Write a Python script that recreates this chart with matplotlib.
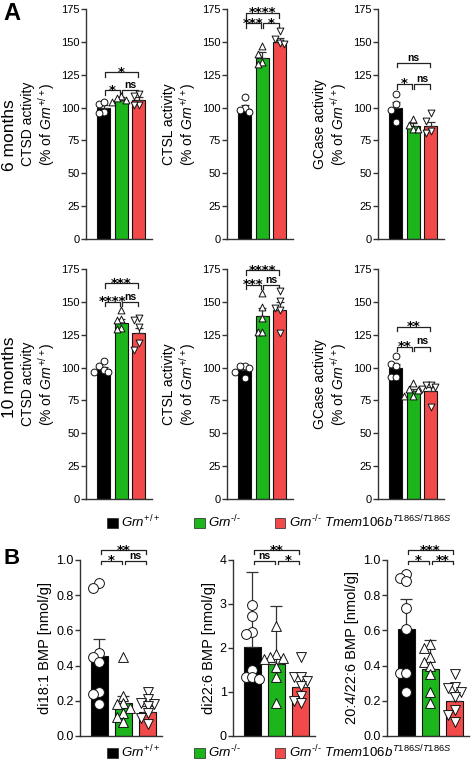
import numpy as np
import matplotlib.pyplot as plt
from matplotlib.patches import Patch

plt.rcParams['font.family'] = ['Liberation Sans', 'DejaVu Sans']
plt.rcParams['mathtext.fontset'] = 'custom'
plt.rcParams['mathtext.rm'] = 'Liberation Sans'
plt.rcParams['mathtext.it'] = 'Liberation Sans:italic'
plt.rcParams['mathtext.bf'] = 'Liberation Sans:bold'

groups = ['Grn+/+', 'Grn-/-', 'Grn-/- Tmem106b T186S/T186S']
colors = ['#000000', '#1cb51c', '#f24a4a']
markers = ['o', '^', 'v']

# ---- panel A, 6 months (n=4) ----
ctsd_6m_mean = [100, 106, 106]
ctsd_6m_err = [2, 2, 2]
ctsd_6m_pts = [[103, 104, 97, 96], [109, 107, 106, 104], [110, 109, 102, 102]]
ctsd_6m_sig = ['*', 'ns', '*']

ctsl_6m_mean = [99, 138, 150]
ctsl_6m_err = [3, 4, 3]
ctsl_6m_pts = [[108, 100, 98, 97], [147, 141, 135, 133], [158, 152, 149, 148]]
ctsl_6m_sig = ['***', '*', '****']

gcase_6m_mean = [100, 86, 86]
gcase_6m_err = [4, 2, 3]
gcase_6m_pts = [[110, 103, 98, 89], [91, 87, 84, 84], [96, 90, 82, 81]]
gcase_6m_sig = ['*', 'ns', 'ns']

# ---- panel A, 10 months (n=5) ----
ctsd_10m_mean = [99, 134, 126]
ctsd_10m_err = [1.5, 3, 4]
ctsd_10m_pts = [[105, 101, 98, 97, 97], [144, 137, 136, 130, 129], [138, 136, 131, 119, 113]]
ctsd_10m_sig = ['****', 'ns', '***']

ctsl_10m_mean = [98, 139, 144]
ctsl_10m_err = [2, 6, 6]
ctsl_10m_pts = [[101, 101, 100, 97, 92], [157, 146, 138, 127, 127], [158, 151, 145, 144, 126]]
ctsl_10m_sig = ['***', 'ns', '****']

gcase_10m_mean = [100, 82, 82]
gcase_10m_err = [3, 2, 3]
gcase_10m_pts = [[109, 103, 101, 93, 93], [88, 84, 83, 78, 78], [87, 87, 85, 84, 70]]
gcase_10m_sig = ['**', 'ns', '**']

# ---- panel B (n=8) ----
di18_mean = [0.455, 0.185, 0.135]
di18_err = [0.098, 0.04, 0.035]
di18_pts = [[0.87, 0.84, 0.47, 0.45, 0.42, 0.25, 0.24, 0.18],
            [0.45, 0.23, 0.19, 0.18, 0.16, 0.13, 0.11, 0.08],
            [0.25, 0.21, 0.19, 0.18, 0.17, 0.13, 0.10, 0.07]]
di18_sig = ['*', 'ns', '**']

di22_mean = [2.02, 1.64, 1.11]
di22_err = [1.70, 1.31, 0.25]
di22_pts = [[2.97, 2.72, 2.36, 2.31, 1.49, 1.35, 1.33, 1.30],
            [2.49, 1.87, 1.79, 1.78, 1.75, 1.56, 1.33, 0.76],
            [1.79, 1.33, 1.33, 1.26, 1.14, 0.91, 0.80, 0.76]]
di22_sig = ['ns', '*', '**']

di20_mean = [0.61, 0.38, 0.20]
di20_err = [0.17, 0.165, 0.045]
di20_pts = [[0.92, 0.90, 0.88, 0.73, 0.61, 0.36, 0.36, 0.25],
            [0.52, 0.50, 0.45, 0.42, 0.40, 0.35, 0.25, 0.19],
            [0.35, 0.28, 0.27, 0.25, 0.22, 0.15, 0.12, 0.08]]
di20_sig = ['*', '**', '***']

grn = r'$\mathit{Grn}^{+/+}$'
a_labels = ['CTSD activity\n(% of ' + grn + ')',
            'CTSL activity\n(% of ' + grn + ')',
            'GCase activity\n(% of ' + grn + ')']
b_labels = ['di18:1 BMP [nmol/g]', 'di22:6 BMP [nmol/g]', '20:4/22:6 BMP [nmol/g]']


def spread(vals, tol, step):
    vals = np.asarray(vals, float)
    offs = np.zeros(len(vals))
    placed = []
    cands = [0, -step, step, -2 * step, 2 * step]
    for i in np.argsort(vals)[::-1]:
        near = [offs[j] for j in placed if abs(vals[j] - vals[i]) < tol]
        for c in cands:
            if all(abs(c - o) > 1e-6 for o in near):
                offs[i] = c
                break
        placed.append(i)
    return offs


def bracket(ax, x1, x2, y, text, h):
    g = 0.06
    ax.plot([x1 + g, x1 + g, x2 - g, x2 - g], [y - h, y, y, y - h],
            color='#222222', lw=0.9, clip_on=False)
    if text == 'ns':
        ax.annotate(text, ((x1 + x2) / 2, y), xytext=(0, 1.5), textcoords='offset points',
                    ha='center', va='baseline', fontsize=7.5, fontweight='bold',
                    annotation_clip=False)
    else:
        ax.annotate(text, ((x1 + x2) / 2, y), xytext=(0, -2.5), textcoords='offset points',
                    ha='center', va='baseline', fontsize=9.5, fontweight='bold',
                    family='DejaVu Sans', annotation_clip=False)


def panel(ax, mean, err, pts, sig, ymax, yticks, ylabel, ms, tick_fs, lab_fs,
          cap, sig_y, xlim, fmt=None):
    x = np.arange(3)
    ax.bar(x, mean, width=0.72, color=colors, edgecolor='#111111', lw=0.8, zorder=1)
    for i in range(3):
        ax.errorbar(x[i], mean[i], yerr=[[0], [err[i]]], color='#333333', lw=0.9,
                    capsize=cap, capthick=0.9, zorder=2)
        offs = spread(pts[i], 0.035 * ymax, 0.26)
        ax.scatter(x[i] + offs, pts[i], s=ms, marker=markers[i], facecolor='white',
                   edgecolor='#111111', lw=0.7, zorder=3, clip_on=False)
    ax.set_xlim(*xlim)
    ax.set_ylim(0, ymax)
    ax.set_yticks(yticks)
    if fmt:
        ax.set_yticklabels([fmt.format(t) for t in yticks])
    ax.set_xticks([])
    for s in ['top', 'right']:
        ax.spines[s].set_visible(False)
    for s in ['left', 'bottom']:
        ax.spines[s].set_color('#333333')
        ax.spines[s].set_linewidth(1.0)
    ax.tick_params(axis='y', length=3.5, width=1.0, color='#333333', labelsize=tick_fs, pad=1)
    ax.set_ylabel(ylabel, fontsize=lab_fs, labelpad=3, linespacing=1.05)
    h = 0.02 * ymax
    bracket(ax, 0, 1, sig_y[0], sig[0], h)
    bracket(ax, 1, 2, sig_y[0], sig[1], h)
    bracket(ax, 0, 2, sig_y[1], sig[2], h)


fig = plt.figure(figsize=(4.74, 7.6), dpi=100)

a_left = [86 / 474, 227 / 474, 378 / 474]
a_w = 66 / 474
a_h = 230 / 760
a_bottom = [1 - 239 / 760, 1 - 499 / 760]
b_left = [80 / 474, 233 / 474, 387 / 474]
b_w = 82 / 474
b_h = 176 / 760
b_bottom = 1 - 736 / 760

rows_a = [
    [(ctsd_6m_mean, ctsd_6m_err, ctsd_6m_pts, ctsd_6m_sig, (113, 127)),
     (ctsl_6m_mean, ctsl_6m_err, ctsl_6m_pts, ctsl_6m_sig, (164, 172)),
     (gcase_6m_mean, gcase_6m_err, gcase_6m_pts, gcase_6m_sig, (118, 134))],
    [(ctsd_10m_mean, ctsd_10m_err, ctsd_10m_pts, ctsd_10m_sig, (150, 164)),
     (ctsl_10m_mean, ctsl_10m_err, ctsl_10m_pts, ctsl_10m_sig, (163, 174)),
     (gcase_10m_mean, gcase_10m_err, gcase_10m_pts, gcase_10m_sig, (116, 131))],
]
for r, row in enumerate(rows_a):
    for c, (m, e, p, s, sy) in enumerate(row):
        ax = fig.add_axes([a_left[c], a_bottom[r], a_w, a_h])
        panel(ax, m, e, p, s, 175, np.arange(0, 176, 25), a_labels[c], 24, 8, 10,
              2.8, sy, (-1.0, 2.75))

b_sets = [(di18_mean, di18_err, di18_pts, di18_sig, 1.0, np.arange(0, 1.01, 0.2), '{:.1f}'),
          (di22_mean, di22_err, di22_pts, di22_sig, 4, np.arange(0, 5, 1), '{:.0f}'),
          (di20_mean, di20_err, di20_pts, di20_sig, 1.0, np.arange(0, 1.01, 0.2), '{:.1f}')]
for c, (m, e, p, s, ymax, yt, fmt) in enumerate(b_sets):
    ax = fig.add_axes([b_left[c], b_bottom, b_w, b_h])
    panel(ax, m, e, p, s, ymax, yt, b_labels[c], 50, 9, 10.5, 4.2,
          (0.995 * ymax, 1.055 * ymax), (-0.8, 2.6), fmt)

fig.text(0.008, 0.998, 'A', fontsize=17, fontweight='bold', va='top')
fig.text(0.008, 1 - 548 / 760, 'B', fontsize=16, fontweight='bold', va='top')
fig.text(0.019, 1 - 135 / 760, '6 months', fontsize=12.5, rotation=90, ha='center', va='center')
fig.text(0.019, 1 - 377 / 760, '10 months', fontsize=12.5, rotation=90, ha='center', va='center')

leg_labels = [r'$\mathit{Grn}^{+/+}$', r'$\mathit{Grn}^{\text{-/-}}$',
              r'$\mathit{Grn}^{\text{-/-}}\ \mathit{Tmem106b}^{T186S/T186S}$']
handles = [Patch(facecolor=col, edgecolor='#222222', lw=0.5) for col in colors]
for yc in [1 - 522 / 760, 1 - 752 / 760]:
    fig.legend(handles, leg_labels, ncol=3, loc='center', bbox_to_anchor=(0.589, yc),
               frameon=False, fontsize=9.5, handlelength=0.78, handleheight=0.78,
               handletextpad=0.25, columnspacing=2.6, borderpad=0, borderaxespad=0)

fig.savefig('out.png', dpi=100)
